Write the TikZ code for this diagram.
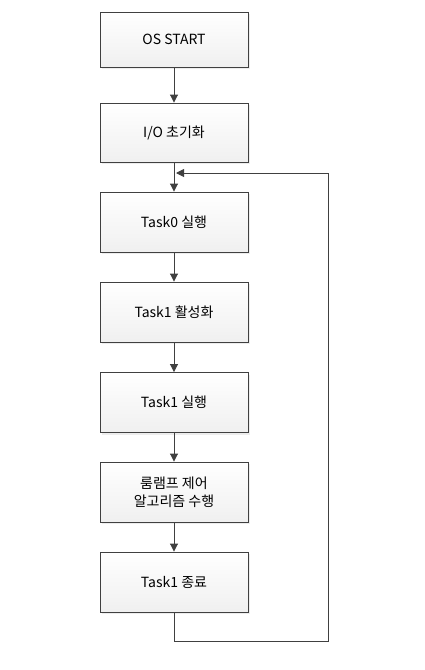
\documentclass[tikz,border=0pt]{standalone}
\usepackage{fontspec}
\setmainfont{Noto Sans CJK KR}
\usetikzlibrary{arrows.meta,shadows}
\definecolor{linegray}{HTML}{404040}
\begin{document}
\begin{tikzpicture}[x=1pt,y=-1pt,
  flowbox/.style={draw=linegray, line width=0.9pt, minimum width=148pt, minimum height=60pt,
    top color=white, bottom color=gray!12, align=center, font=\fontsize{14}{18}\selectfont, inner sep=0pt,
    drop shadow={shadow xshift=2pt, shadow yshift=-2pt, fill=gray!40, opacity=0.35}},
  flowarrow/.style={draw=linegray, line width=0.9pt, -{Triangle[length=8pt,width=8pt]}}]
\useasboundingbox (0,0) rectangle (425,670);
\node[flowbox, minimum height=55pt] (b1) at (174,39.5) {OS START};
\node[flowbox, minimum height=59pt] (b2) at (174,132.5) {I/O 초기화};
\node[flowbox] (b3) at (174,222) {Task0 실행};
\node[flowbox] (b4) at (174,312) {Task1 활성화};
\node[flowbox] (b5) at (174,402.5) {Task1 실행};
\node[flowbox] (b6) at (174,492) {룸램프 제어\\알고리즘 수행};
\node[flowbox] (b7) at (174,582) {Task1 종료};
\coordinate (loopin) at (176,173);
\draw[flowarrow] (b1) -- (b2);
\draw[flowarrow] (b2) -- (b3);
\draw[flowarrow] (b3) -- (b4);
\draw[flowarrow] (b4) -- (b5);
\draw[flowarrow] (b5) -- (b6);
\draw[flowarrow] (b6) -- (b7);
\draw[flowarrow] (b7.south) -- ++(0,29) -| (328,173) -- (loopin);
\end{tikzpicture}
\end{document}
